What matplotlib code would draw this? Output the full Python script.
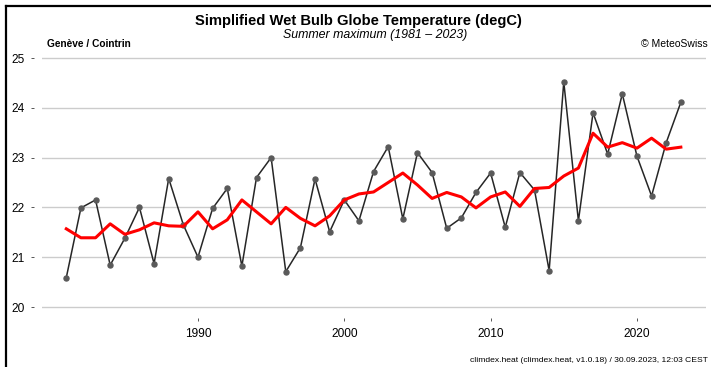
import numpy as np
import matplotlib
matplotlib.use('Agg')
import matplotlib.pyplot as plt
from matplotlib.lines import Line2D

plt.rcParams['font.family'] = ['Liberation Sans', 'DejaVu Sans']

# Chart data.
years = np.arange(1981, 2024)
wbgt_max = [20.59, 21.99, 22.15, 20.84, 21.38, 22.00, 20.87, 22.58, 21.65, 21.00,
            21.98, 22.38, 20.82, 22.60, 23.00, 20.71, 21.19, 22.57, 21.51, 22.15,
            21.73, 22.72, 23.22, 21.77, 23.10, 22.70, 21.58, 21.79, 22.30, 22.69,
            21.60, 22.70, 22.35, 20.73, 24.52, 21.73, 23.90, 23.07, 24.28, 23.03,
            22.23, 23.30, 24.11]
wbgt_smooth = [21.57, 21.39, 21.39, 21.67, 21.46, 21.55, 21.69, 21.63, 21.62, 21.91,
               21.57, 21.75, 22.15, 21.91, 21.67, 22.00, 21.78, 21.63, 21.83, 22.15,
               22.27, 22.31, 22.50, 22.69, 22.45, 22.18, 22.30, 22.21, 21.99, 22.21,
               22.31, 22.02, 22.38, 22.40, 22.63, 22.79, 23.49, 23.21, 23.30, 23.19,
               23.39, 23.17, 23.21]
yticks = [20, 21, 22, 23, 24, 25]
xticks = [1990, 2000, 2010, 2020]

W, H = 711, 367
PX_PER_DEG = 49.8
y_top, y_bot = 58 - 0.1 * PX_PER_DEG, 307 + 0.1 * PX_PER_DEG

fig = plt.figure(figsize=(W / 100, H / 100), dpi=100)
ax = fig.add_axes([42 / W, 1 - y_bot / H, (706 - 42) / W, (y_bot - y_top) / H])

ax.plot(years, wbgt_max, color='#262626', lw=1.1, marker='o', ms=3.6,
        mfc='#5a5a5a', mec='#5a5a5a', zorder=3)
ax.plot(years, wbgt_smooth, color='#ff0000', lw=2.2, zorder=4)

ax.set_xlim(1979.34, 2024.72)
ax.set_ylim(19.9, 25.1)
ax.set_yticks(yticks)
ax.set_xticks(xticks)
ax.yaxis.grid(True, color='#cccccc', lw=1.0)
ax.set_axisbelow(True)

for s in ax.spines.values():
    s.set_visible(False)
ax.spines['left'].set_position(('outward', 5.5))
ax.spines['bottom'].set_position(('outward', 4.5))
ax.tick_params(axis='y', length=2.2, width=0.7, color='#555555', pad=5, labelsize=8.6)
ax.tick_params(axis='x', length=2.4, width=0.7, color='#555555', pad=4.5, labelsize=8.6)

# Titles and annotations
fig.text(358 / W, 1 - 24.5 / H, 'Simplified Wet Bulb Globe Temperature (degC)',
         ha='center', va='baseline', fontsize=10.6, fontweight='bold')
fig.text(375 / W, 1 - 38 / H, 'Summer maximum (1981 \u2013 2023)',
         ha='center', va='baseline', fontsize=8.9, style='italic')
fig.text(47 / W, 1 - 47 / H, 'Gen\u00e8ve / Cointrin', ha='left', va='baseline',
         fontsize=7.3, fontweight='bold')
fig.text(708 / W, 1 - 47 / H, '\u00a9 MeteoSwiss', ha='right', va='baseline',
         fontsize=7.5)
fig.text(470 / W, 1 - 362 / H,
         'climdex.heat (climdex.heat, v1.0.18) / 30.09.2023, 12:03 CEST',
         ha='left', va='baseline', fontsize=6.1)

# Frame (left and top edges visible)
fig.add_artist(Line2D([5.5 / W, 5.5 / W], [0, 1 - 5.5 / H], color='black', lw=1.6,
                      transform=fig.transFigure))
fig.add_artist(Line2D([5.5 / W, 1], [1 - 5.5 / H, 1 - 5.5 / H], color='black', lw=1.6,
                      transform=fig.transFigure))

fig.savefig('out.png', dpi=100)
